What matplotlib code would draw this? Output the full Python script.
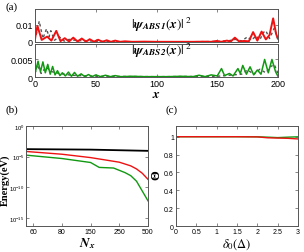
import numpy as np
import matplotlib
matplotlib.use('Agg')
import matplotlib.pyplot as plt

plt.rcParams['font.family'] = ['Liberation Sans', 'DejaVu Sans']
plt.rcParams['mathtext.fontset'] = 'stix'

# --- panel (a): probability densities along the wire ---
x_abs1 = [0, 2, 5.5, 10, 13.5, 17.5, 21, 24.5, 28, 31.5, 35, 38.5, 42, 45, 48.5, 52, 55.5, 59,
          62.5, 66, 70, 74, 80, 90, 100, 110, 120, 130, 140, 145, 149.5, 153, 158, 161, 164.5,
          168, 172, 176, 179.5, 183, 186.5, 190, 193, 196, 198.5, 200]
psi_abs1 = [0.002, 0.0092, 0.0012, 0.0031, 0.0008, 0.0064, 0.0005, 0.0022, 0.0003, 0.0025, 0.0003,
            0.0020, 0.0002, 0.0016, 0.0002, 0.0013, 0.0001, 0.0010, 0.0001, 0.0008, 0.0001, 0.0004,
            0.0001, 0.0002, 0.0001, 0.0001, 0.0001, 0.0001, 0.0002, 0.0001, 0.0006, 0.0001, 0.0008,
            0.0002, 0.0025, 0.0003, 0.0006, 0.0004, 0.0057, 0.0008, 0.0060, 0.0015, 0.0040, 0.0136,
            0.0045, 0.0020]
x_ref1 = [0, 3.5, 6.5, 9.5, 11.5, 13, 16, 20, 24, 28, 35, 45, 60, 80, 120, 150, 160, 165, 170,
          175, 178, 182, 185, 188, 190, 193, 197, 200]
psi_ref1 = [0.001, 0.012, 0.002, 0.0076, 0.003, 0.0065, 0.001, 0.003, 0.0005, 0.0015, 0.0008,
            0.0006, 0.0003, 0.0001, 0.0001, 0.0003, 0.0008, 0.0015, 0.0006, 0.003, 0.001, 0.0035,
            0.0012, 0.0055, 0.0065, 0.002, 0.008, 0.001]

x_abs2 = [0, 2.5, 4.5, 6.5, 8.5, 10.5, 12.5, 14.5, 16.5, 18.5, 20.5, 22.5, 25, 27.5, 30, 32.5, 35,
          38, 41, 44, 47, 50, 54, 58, 62, 66, 70, 80, 90, 100, 110, 120, 130, 135, 140, 145, 150,
          153.5, 156, 160, 163, 167, 169, 171, 174, 177, 180, 183, 186, 189, 192, 195, 198, 200]
psi_abs2 = [0.001, 0.0045, 0.0015, 0.0043, 0.0012, 0.0036, 0.0008, 0.0030, 0.0006, 0.0018, 0.0004,
            0.0012, 0.0003, 0.0014, 0.0002, 0.0013, 0.0002, 0.0009, 0.0001, 0.0007, 0.0001, 0.0006,
            0.0001, 0.0005, 0.0001, 0.0004, 0.0001, 0.0002, 0.0001, 0.0001, 0.0001, 0.0002, 0.0001,
            0.0005, 0.0001, 0.0006, 0.0003, 0.0024, 0.0004, 0.0010, 0.0003, 0.0024, 0.0010, 0.0033,
            0.0008, 0.0029, 0.0006, 0.0020, 0.0008, 0.0050, 0.0012, 0.0050, 0.0015, 0.0002]
x_ref2 = [0, 2, 5, 9, 14, 20, 30, 50, 100, 150, 170, 175, 180, 185, 190, 194, 197, 200]
psi_ref2 = [0.001, 0.0035, 0.001, 0.0028, 0.0015, 0.001, 0.0005, 0.0002, 0.0001, 0.0002, 0.0008,
            0.002, 0.0008, 0.0022, 0.0012, 0.003, 0.0035, 0.001]

# --- panel (b): energies vs number of sites ---
nx_ticks = [60, 80, 150, 250, 500]
nx_black = [55, 150, 250, 500]
e_black = [10**-3.77, 10**-3.85, 10**-3.95, 10**-4.05]
nx_red = [55, 80, 150, 250, 300, 350, 400, 450, 500]
e_red = [10**-4.15, 10**-4.6, 10**-5.15, 10**-5.9, 10**-6.2, 10**-6.5, 10**-7.0, 10**-7.7, 10**-8.7]
nx_green = [55, 80, 150, 180, 230, 300, 350, 400, 500]
e_green = [10**-4.75, 10**-5.3, 10**-5.95, 10**-6.75, 10**-6.85, 10**-7.6, 10**-8.1, 10**-9.0,
           10**-12.2]

# --- panel (c): Theta vs delta0 ---
delta0 = [0, 0.5, 1, 1.5, 2, 2.25, 2.5, 2.75, 3]
theta_red = [1, 1, 1, 1, 0.998, 0.988, 0.985, 0.982, 0.975]
theta_green = [1, 1, 1, 1, 0.999, 0.995, 0.99, 0.995, 0.999]

W, H = 304, 253
fig = plt.figure(figsize=(W / 100, H / 100), dpi=100)

def box(l, t, r, b):
    return [l / W, 1 - b / H, (r - l) / W, (b - t) / H]

frame = '#555555'
serif = ['Liberation Serif', 'DejaVu Serif']

def style(ax, size):
    ax.tick_params(direction='in', top=True, right=True, labelsize=size, length=2,
                   width=0.5, pad=1.5, color=frame)
    for s in ax.spines.values():
        s.set_color(frame)
        s.set_linewidth(0.7)

ax1 = fig.add_axes(box(35, 10, 278, 43))
ax1.plot(x_ref1, psi_ref1, color='#555555', lw=1.0, ls=(0, (2, 2)))
ax1.plot(x_abs1, psi_abs1, color='#ee1111', lw=1.4)
ax1.set_xlim(0, 200)
ax1.set_ylim(0, 0.019)
ax1.set_yticks([0, 0.01])
ax1.set_yticklabels(['0', '0.01'])
ax1.set_xticks([0, 50, 100, 150, 200])
ax1.set_xticklabels([])
style(ax1, 6.5)
ax1.text(0.52, 0.55, r'$|\mathbfit{\psi}_{\mathbfit{ABS1}}(\mathbfit{x})|^{\ 2}$',
         transform=ax1.transAxes, fontsize=9.5, va='center', ha='center')

ax2 = fig.add_axes(box(35, 45, 278, 78))
ax2.plot(x_ref2, psi_ref2, color='#555555', lw=1.0, ls=(0, (2, 2)))
ax2.plot(x_abs2, psi_abs2, color='#119911', lw=1.1)
ax2.set_xlim(0, 200)
ax2.set_ylim(0, 0.0094)
ax2.set_yticks([0, 0.005])
ax2.set_yticklabels(['0', '0.005'])
ax2.set_xticks([0, 50, 100, 150, 200])
style(ax2, 6.5)
ax2.text(0.52, 0.82, r'$|\mathbfit{\psi}_{\mathbfit{ABS2}}(\mathbfit{x})|^{\ 2}$',
         transform=ax2.transAxes, fontsize=9.5, va='center', ha='center')
ax2.set_xlabel(r'$\mathbfit{x}$', fontsize=9.5, labelpad=0)

# panel (b) uses an evenly spaced, piecewise-linear Nx axis
src = [40] + nx_ticks
dst = [-1, 0, 1, 2, 3, 4]

def fwd(v):
    return np.interp(v, src, dst)

def inv(v):
    return np.interp(v, dst, src)

axb = fig.add_axes(box(26, 127, 148, 227))
axb.set_xscale('function', functions=(fwd, inv))
axb.set_yscale('log')
axb.plot(nx_black, e_black, color='black', lw=1.3)
axb.plot(nx_red, e_red, color='#ee1111', lw=1.0)
axb.plot(nx_green, e_green, color='#119911', lw=1.0)
axb.set_xlim(55, 500)
axb.set_ylim(10**-16.3, 1)
axb.set_xticks(nx_ticks)
axb.set_xticklabels([str(v) for v in nx_ticks])
axb.set_yticks([1, 1e-5, 1e-10, 1e-15])
axb.minorticks_off()
style(axb, 5)
axb.tick_params(axis='y', labelsize=4.2, pad=1)
axb.set_ylabel('Energy(eV)', family=serif, fontweight='bold', fontsize=7.5)
axb.yaxis.set_label_coords(-0.13, 0.47)
axb.set_xlabel(r'$\mathbfit{N_x}$', fontsize=9.5, labelpad=0)

axc = fig.add_axes(box(176, 127, 298, 227))
axc.plot(delta0, theta_green, color='#119911', lw=1.0)
axc.plot(delta0, theta_red, color='#ee1111', lw=1.0)
axc.set_xlim(0, 3)
axc.set_ylim(0, 1.12)
axc.set_xticks([0, 0.5, 1, 1.5, 2, 2.5, 3])
axc.set_xticklabels(['0', '0.5', '1', '1.5', '2', '2.5', '3'])
axc.set_yticks([0, 0.2, 0.4, 0.6, 0.8, 1])
axc.set_yticklabels(['0', '0.2', '0.4', '0.6', '0.8', '1'])
style(axc, 5)
axc.set_ylabel('Θ', family=serif, fontweight='bold', fontsize=9)
axc.yaxis.set_label_coords(-0.11, 0.52)
axc.set_xlabel(r'$\delta_0(\mathit{\Delta})$', fontsize=9, labelpad=1)

fig.text(5 / W, 1 - 7 / H, '(a)', family=serif, fontsize=8, va='center')
fig.text(6 / W, 1 - 110 / H, '(b)', family=serif, fontsize=8, va='center')
fig.text(166 / W, 1 - 110 / H, '(c)', family=serif, fontsize=8, va='center')

fig.savefig('out.png', dpi=100)
